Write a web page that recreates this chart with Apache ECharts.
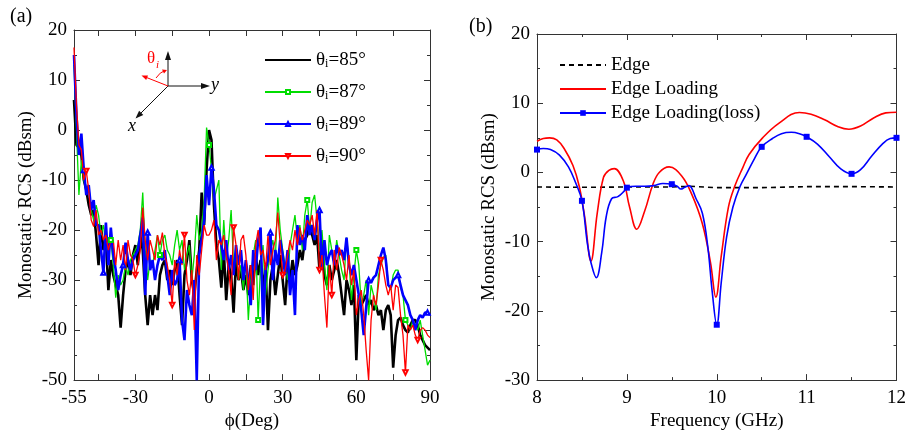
<!DOCTYPE html>
<html><head><meta charset="utf-8">
<script src="https://cdn.jsdelivr.net/npm/echarts@6/dist/echarts.min.js"></script>
<style>html,body{margin:0;padding:0;background:#fff}#c{width:909px;height:436px}</style>
</head><body><div id="c"></div>
<script>
// ---------- Panel (a): monostatic RCS vs phi ----------
const phi = [-55,-54,-53,-52,-51,-50,-49,-48,-47,-46,
 -45,-44,-43,-42,-41,-40,-39,-38,-37,-36,
 -35,-34,-33,-32,-31,-30,-29,-28,-27,-26,
 -25,-24,-23,-22,-21,-20,-19,-18,-17,-16,
 -15,-14,-13,-12,-11,-10,-9,-8,-7,-6,
 -5,-4,-3,-2,-1,0,1,2,3,4,
 5,6,7,8,9,10,11,12,13,14,
 15,16,17,18,19,20,21,22,23,24,
 25,26,27,28,29,30,31,32,33,34,
 35,36,37,38,39,40,41,42,43,44,
 45,46,47,48,49,50,51,52,53,54,
 55,56,57,58,59,60,61,62,63,64,
 65,66,67,68,69,70,71,72,73,74,
 75,76,77,78,79,80,81,82,83,84,
 85,86,87,88,89,90];
const rcs85 = [6,-3,-3.5,-5,-10,-12,-15,-17,-16,-21,
 -27,-19,-24,-22,-32,-26,-29,-31,-33,-39.5,
 -33,-28,-26,-29,-25,-23,-27,-21,-24,-33,
 -39,-33,-37,-33,-36,-29,-27,-26,-30,-28,
 -31,-28,-26,-33,-39,-29,-26,-22,-30,-33,
 -28,-24,-12.5,-19,-8,0,-2,-15,-23,-26,
 -31.5,-24,-34,-27,-29,-36.5,-26,-30,-28,-32,
 -29,-33,-27,-31,-25,-29,-26,-32,-27,-40,
 -30,-27,-33,-29,-25,-30,-35,-27,-30,-26,
 -29,-27,-24,-26,-22,-21,-19,-21,-23,-21,
 -28,-22,-29,-31,-27,-30,-28,-26,-29,-33,
 -37,-30,-32,-35,-31,-46,-33,-35,-34,-33,
 -35,-34,-36,-35,-37,-36,-40,-36,-35,-37,
 -47.5,-41,-38,-37.5,-39,-40,-40.5,-39,-38,-38,
 -39,-41,-42,-43,-43.5,-44];
const rcs87 = [13,0,-13,-6,-10,-12,-11,-16,-18,-15,
 -17,-21,-19,-23,-25,-22,-27,-33.5,-29,-31,
 -30,-27,-29,-26,-25,-24,-23,-20,-12.5,-24,
 -30,-26,-27,-24,-21,-25,-22,-21,-24,-25,
 -27,-23,-20,-24,-22,-28,-25,-23,-30,-25,
 -17,-22,-20,-14,0.5,-3,-8,-14,-12,-10,
 -28,-18,-26,-22,-16,-27,-24,-30,-27,-32,
 -26,-38,-30,-25,-22,-38,-27,-23,-33,-28,
 -24,-22,-26,-13.5,-20,-24,-27,-30,-23,-20,
 -17,-22,-19,-24,-17,-14,-20,-14.5,-13,-18,
 -24,-20,-27,-32,-21,-24,-27,-22,-25,-28,
 -30,-21.5,-26,-34,-29,-24,-27,-35,-33,-30,
 -37,-31,-33,-36,-29,-27,-25.5,-25,-31,-32,
 -29,-28,-28,-31.5,-33,-38,-39,-40,-38,-39,
 -40,-38,-41,-44,-47,-46];
const rcs89 = [15,3,-5,-0.7,-8,-13,-11,-16,-14,-19,
 -19,-24,-28.5,-18.5,-27,-19.5,-25,-28,-32,-29,
 -27,-22.5,-26,-28,-26,-25,-24,-21,-17.5,-33,
 -20.5,-28,-26,-30,-27,-25,-26,-24,-29,-33,
 -28,-31,-30,-26,-38,-42,-32,-35,-37,-30,
 -50,-25,-22,-18,-9,-15,-7.5,-12,-19,-20,
 -23,-26,-22,-28,-25,-29,-23,-27,-24,-30,
 -26,-30,-35,-24,-28,-22,-19.5,-39,-28,-26,
 -20.5,-30,-24,-27,-22,-25,-29,-24,-33,-28,
 -37,-19,-23,-21,-24,-17,-21,-19,-22,-18,
 -16,-28,-22,-27,-25,-24,-27,-23,-25,-24,
 -26,-21.5,-27,-29,-27,-30,-33,-36,-41,-35.5,
 -30,-30.5,-29.5,-29,-27,-25,-23.5,-26,-31,-31.5,
 -30,-29.5,-29,-31,-33,-34,-35,-37,-38,-40,
 -38,-37,-37.5,-36.5,-36.5,-37];
const rcs90 = [16.5,5,-3,-4,-10,-8.2,-12,-18,-19.3,-16,
 -21,-20,-22,-21,-24,-22,-22,-27,-22,-26,
 -23,-28,-22,-25,-26,-29,-27,-24,-15.5,-22,
 -26,-22,-24,-26,-21,-23,-20.5,-25,-27,-30,
 -35,-26,-29,-24,-27,-21,-30,-33,-28,-40,
 -25,-29,-24,-19,-21,-21,-20,-18,-26,-22,
 -23,-21,-25,-28,-33,-19.5,-23,-30,-22,-21,
 -25,-32,-27,-34,-23,-20,-25,-24,-28,-21,
 -27,-24,-22,-16.5,-23,-29,-28,-25,-22,-24,
 -20,-23,-19.5,-22,-20,-18,-19,-17,-21,-16,
 -28,-25,-33,-39.5,-27,-33,-24,-28,-23.5,-25,
 -27,-30,-25,-31,-28,-37,-34,-32,-37,-44,
 -50,-38,-33,-35,-31,-26,-28,-31,-33,-31,
 -36,-31,-31.5,-37,-41,-48.5,-39,-40,-39,-41,
 -42,-40,-39.5,-40,-41,-41.5];
const marks87 = [-40,-20,0,20,40,60,80];
const marks89 = [-51,-43,-35,-25,-12,1,25,45,65,77,89];
const marks90 = [-50,-30,-15,-10,10,30,45,50,70,80,85];
const phiLabels = [-55,-30,0,30,60,90];
const phiTicks = [-45,-30,-15,0,15,30,45,60,75,90];

// ---------- Panel (b): RCS vs frequency ----------
const edgeF = [8.0,8.5,9.0,9.5,9.7,10.0,10.5,11.0,11.5,12.0];
const edgeV = [-2.1,-2.15,-2.1,-2.1,-2.0,-2.2,-2.2,-2.05,-2.05,-2.1];
const loadF = [8.0,8.07,8.14,8.22,8.3,8.4,8.47,8.53,8.6,8.67,8.74,8.8,8.86,8.96,9.03,9.11,9.2,9.29,9.36,9.47,9.61,9.72,9.84,9.93,9.99,10.05,10.13,10.2,10.29,10.36,10.51,10.69,10.92,11.05,11.2,11.35,11.47,11.6,11.75,11.88,12.0];
const loadV = [4.5,4.9,5.0,4.7,3.5,1.0,-2.0,-6.4,-12.8,-5.9,-0.7,0.3,0.55,-1.2,-5.0,-8.2,-5.5,-1.7,0.0,0.8,-0.5,-3.1,-7.4,-13.0,-18.0,-12.1,-5.0,-2.0,0.7,2.6,5.0,7.1,8.66,8.4,7.6,6.6,6.24,6.7,7.9,8.6,8.7];
const lossF = [8.0,8.07,8.15,8.25,8.35,8.43,8.5,8.56,8.6,8.66,8.72,8.77,8.83,8.9,8.97,9.0,9.1,9.2,9.3,9.4,9.5,9.56,9.6,9.65,9.69,9.77,9.84,9.9,9.95,10.0,10.05,10.11,10.18,10.26,10.33,10.42,10.5,10.62,10.72,10.83,10.92,11.0,11.12,11.25,11.38,11.5,11.6,11.72,11.85,11.93,12.0];
const lossV = [3.3,3.45,3.3,2.5,0.8,-1.5,-4.1,-10.2,-13.0,-15.2,-11.6,-6.4,-3.8,-3.5,-2.7,-2.2,-2.0,-2.0,-1.9,-1.6,-1.7,-2.0,-2.4,-2.1,-1.9,-3.8,-5.9,-10.7,-17.3,-22.0,-15.9,-9.3,-5.0,-2.0,-0.25,2.0,3.7,4.9,5.6,5.8,5.6,5.15,4.1,2.3,0.5,-0.2,0.4,2.3,4.2,4.9,5.0];
const lossMarks = [8,8.5,9,9.5,10,10.5,11,11.5,12];

const FONT = '"Liberation Serif", "DejaVu Serif", serif';
const AX = '#333';
const zip = (xs, ys) => xs.map((x, i) => [x, ys[i]]);

function axisBase(extra) {
  return Object.assign({
    type: 'value',
    axisLine: { show: true, onZero: false, lineStyle: { color: AX, width: 1 } },
    axisTick: { show: true, inside: true, length: 6, lineStyle: { color: AX } },
    minorTick: { show: true, splitNumber: 2, length: 3, lineStyle: { color: AX } },
    splitLine: { show: false },
    axisLabel: { color: '#000', fontFamily: FONT, fontSize: 19 },
    nameTextStyle: { color: '#000', fontFamily: FONT, fontSize: 19 },
  }, extra);
}
const noLabel = { show: false };

const chart = echarts.init(document.getElementById('c'), null, { renderer: 'canvas' });
const legendText = {
  fontFamily: FONT, fontSize: 19, color: '#000', lineHeight: 20,
  rich: { s: { fontFamily: FONT, fontSize: 12, color: '#000', lineHeight: 20, verticalAlign: 'bottom', padding: [10, 0, 0, 0] } }
};
const option = {
  animation: false,
  grid: [
    { left: 74, top: 30, width: 356, height: 356 },
    { left: 537, top: 34, width: 360, height: 352 }
  ],
  xAxis: [
    axisBase({ gridIndex: 0, min: -55, max: 90, position: 'bottom',
      axisTick: { show: true, inside: true, length: 6, lineStyle: { color: AX }, customValues: phiTicks },
      minorTick: { show: false },
      axisLabel: { color: '#000', fontFamily: FONT, fontSize: 19, margin: 8, customValues: phiLabels },
      name: 'ϕ(Deg)', nameLocation: 'middle', nameGap: 26 }),
    axisBase({ gridIndex: 0, min: -55, max: 90, position: 'top',
      axisTick: { show: true, inside: true, length: 6, lineStyle: { color: AX }, customValues: phiTicks },
      minorTick: { show: false }, axisLabel: noLabel }),
    axisBase({ gridIndex: 1, min: 8, max: 12, interval: 1, position: 'bottom',
      axisLabel: { color: '#000', fontFamily: FONT, fontSize: 19, margin: 8 },
      name: 'Frequency (GHz)', nameLocation: 'middle', nameGap: 26 }),
    axisBase({ gridIndex: 1, min: 8, max: 12, interval: 1, position: 'top', axisLabel: noLabel })
  ],
  yAxis: [
    axisBase({ gridIndex: 0, min: -50, max: 20, interval: 10, position: 'left',
      axisLabel: { color: '#000', fontFamily: FONT, fontSize: 19, margin: 7 },
      name: 'Monostatic RCS (dBsm)', nameLocation: 'middle', nameGap: 38 }),
    axisBase({ gridIndex: 0, min: -50, max: 20, interval: 10, position: 'right', axisLabel: noLabel }),
    axisBase({ gridIndex: 1, min: -30, max: 20, interval: 10, position: 'left',
      axisLabel: { color: '#000', fontFamily: FONT, fontSize: 19, margin: 7 },
      name: 'Monostatic RCS (dBsm)', nameLocation: 'middle', nameGap: 38 }),
    axisBase({ gridIndex: 1, min: -30, max: 20, interval: 10, position: 'right', axisLabel: noLabel })
  ],
  legend: [
    { orient: 'vertical', left: 259, top: 43, itemWidth: 46, itemHeight: 5, itemGap: 10,
      textStyle: legendText,
      formatter: n => n.replace('θi', 'θ{s|i}'),
      data: [
        { name: 'θi=85°', itemStyle: { opacity: 0 } },
        { name: 'θi=87°' }, { name: 'θi=89°' }, { name: 'θi=90°' }
      ] },
    { orient: 'vertical', left: 554, top: 50, itemWidth: 46, itemHeight: 7, itemGap: 4,
      textStyle: { fontFamily: FONT, fontSize: 19, color: '#000', lineHeight: 20 },
      data: [
        { name: 'Edge', itemStyle: { opacity: 0 } },
        { name: 'Edge Loading', itemStyle: { opacity: 0 } },
        { name: 'Edge Loading(loss)' }
      ] }
  ],
  series: [
    { name: 'θi=85°', type: 'line', xAxisIndex: 0, yAxisIndex: 0, data: zip(phi, rcs85),
      symbol: 'circle', showSymbol: false, color: '#000', lineStyle: { width: 2.6, color: '#000' } },
    { name: 'θi=87°', type: 'line', xAxisIndex: 0, yAxisIndex: 0, data: zip(phi, rcs87),
      symbol: 'emptyRect', symbolSize: v => marks87.includes(v[0]) ? 4 : 0, color: '#00dd00',
      itemStyle: { color: '#00dd00', borderWidth: 0.8 }, lineStyle: { width: 1.3, color: '#00dd00' } },
    { name: 'θi=89°', type: 'line', xAxisIndex: 0, yAxisIndex: 0, data: zip(phi, rcs89),
      symbol: 'emptyTriangle', symbolSize: v => marks89.includes(v[0]) ? 4.5 : 0, color: '#0000ff',
      itemStyle: { color: '#0000ff', borderWidth: 0.8 }, lineStyle: { width: 2.6, color: '#0000ff' } },
    { name: 'θi=90°', type: 'line', xAxisIndex: 0, yAxisIndex: 0, data: zip(phi, rcs90),
      symbol: 'emptyTriangle', symbolRotate: 180, symbolSize: v => marks90.includes(v[0]) ? 4.5 : 0, color: '#ff0000',
      itemStyle: { color: '#ff0000', borderWidth: 0.8 }, lineStyle: { width: 1.3, color: '#ff0000' } },
    { name: 'Edge', type: 'line', xAxisIndex: 2, yAxisIndex: 2, data: zip(edgeF, edgeV),
      symbol: 'circle', showSymbol: false, color: '#000', lineStyle: { width: 1.6, color: '#000', type: [5, 4] } },
    { name: 'Edge Loading', type: 'line', xAxisIndex: 2, yAxisIndex: 2, data: zip(loadF, loadV),
      smooth: 0.4, symbol: 'circle', showSymbol: false, color: '#ff0000', lineStyle: { width: 1.6, color: '#ff0000' } },
    { name: 'Edge Loading(loss)', type: 'line', xAxisIndex: 2, yAxisIndex: 2, data: zip(lossF, lossV),
      smooth: 0.4, symbol: 'rect', symbolSize: v => lossMarks.includes(v[0]) ? 6 : 0, color: '#0000ff',
      itemStyle: { color: '#0000ff' }, lineStyle: { width: 1.6, color: '#0000ff' } }
  ],
  graphic: [
    { type: 'text', left: 10, top: 7, style: { text: '(a)', font: '20px "Liberation Serif"', fill: '#000' } },
    { type: 'text', left: 469, top: 17, style: { text: '(b)', font: '20px "Liberation Serif"', fill: '#000' } },
    // inset coordinate sketch
    { type: 'line', shape: { x1: 168, y1: 86, x2: 168, y2: 57 }, style: { stroke: '#111', lineWidth: 1 } },
    { type: 'polygon', shape: { points: [[168, 51], [165, 60], [171, 60]] }, style: { fill: '#111' } },
    { type: 'line', shape: { x1: 168, y1: 86, x2: 203, y2: 86 }, style: { stroke: '#111', lineWidth: 1 } },
    { type: 'polygon', shape: { points: [[210, 86], [201, 83], [201, 89]] }, style: { fill: '#111' } },
    { type: 'line', shape: { x1: 168, y1: 86, x2: 140, y2: 114 }, style: { stroke: '#111', lineWidth: 1 } },
    { type: 'polygon', shape: { points: [[135.5, 118.5], [143.3, 114.9], [139.1, 110.7]] }, style: { fill: '#111' } },
    { type: 'text', left: 211, top: 76, style: { text: 'y', font: 'italic 18px "Liberation Serif"', fill: '#000' } },
    { type: 'text', left: 128, top: 117, style: { text: 'x', font: 'italic 18px "Liberation Serif"', fill: '#000' } },
    { type: 'line', shape: { x1: 168, y1: 86, x2: 146, y2: 77.3 }, style: { stroke: '#ff0000', lineWidth: 1 } },
    { type: 'polygon', shape: { points: [[141.5, 75.5], [148, 75.4], [146.2, 80]] }, style: { fill: '#ff0000' } },
    { type: 'bezierCurve', shape: { x1: 156, y1: 78, x2: 165, y2: 70.5, cpx1: 160, cpy1: 72 }, style: { stroke: '#ff0000', lineWidth: 1, fill: null } },
    { type: 'polygon', shape: { points: [[167, 70], [162, 69.5], [164, 73.5]] }, style: { fill: '#ff0000' } },
    { type: 'text', left: 147, top: 50, style: { text: 'θ', font: '17px "Liberation Serif"', fill: '#ff0000' } },
    { type: 'text', left: 156, top: 60, style: { text: 'i', font: 'italic 11px "Liberation Serif"', fill: '#ff0000' } }
  ]
};
chart.setOption(option);
</script></body></html>
